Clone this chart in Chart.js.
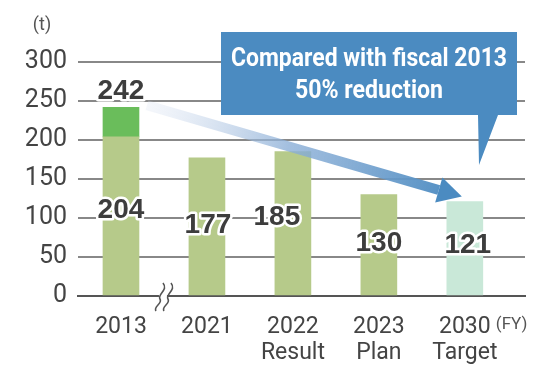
<!DOCTYPE html>
<html>
<head>
<meta charset="utf-8">
<script src="https://cdn.jsdelivr.net/npm/chart.js@4.4.0/dist/chart.umd.min.js"></script>
<style>
  html, body { margin: 0; padding: 0; background: #fff; }
</style>
</head>
<body>
<canvas id="chart" width="550" height="370"></canvas>
<script>
// data
var years = ['2013', '2021', '2022', '2023', '2030'];
var subLabels = ['', '', 'Result', 'Plan', 'Target'];
var baseValues = [204, 177, 185, 130, 121];
var extraValues = [38, null, null, null, null];
var totals = [242, 177, 185, 130, 121];
var yTicks = [0, 50, 100, 150, 200, 250, 300];

var lightGreen = '#b6ca8a';
var darkGreen = '#6abd5b';
var mint = '#c9e8d8';
var blue = '#4b8bc1';

// value labels, arrow, break mark, callout
var decorPlugin = {
  id: 'decor',
  afterDatasetsDraw: function (chart) {
    var ctx = chart.ctx;
    var x = chart.scales.x, y = chart.scales.y;
    var base = chart.getDatasetMeta(0).data;
    var extra = chart.getDatasetMeta(1).data;

    // break mark on the axis between 2013 and 2021
    var bx = (x.getPixelForValue(0) + x.getPixelForValue(1)) / 2 - 1;
    var by = y.getPixelForValue(0);
    ctx.save();
    ctx.fillStyle = '#fff';
    ctx.fillRect(bx - 4, by - 3, 8, 6);
    ctx.strokeStyle = '#555';
    ctx.lineWidth = 1.6;
    [-4, 4].forEach(function (dx) {
      ctx.beginPath();
      ctx.moveTo(bx + dx + 4, by - 13);
      ctx.bezierCurveTo(bx + dx + 10, by - 6, bx + dx - 2, by - 2, bx + dx + 1, by + 3);
      ctx.bezierCurveTo(bx + dx + 4, by + 8, bx + dx - 6, by + 10, bx + dx - 3, by + 15);
      ctx.stroke();
    });
    ctx.restore();

    // arrow from 2013 total to 2030 target
    var sx = x.getPixelForValue(0) + 26, sy = y.getPixelForValue(totals[0]) - 2;
    var ex = x.getPixelForValue(4) - 3, ey = y.getPixelForValue(totals[4]) - 5;
    var ang = Math.atan2(ey - sy, ex - sx);
    var headLen = 24, headW = 13;
    var hx = ex - Math.cos(ang) * headLen, hy = ey - Math.sin(ang) * headLen;
    var g = ctx.createLinearGradient(sx, sy, ex, ey);
    g.addColorStop(0, 'rgba(215,224,240,0.25)');
    g.addColorStop(0.45, 'rgba(140,175,215,0.8)');
    g.addColorStop(1, blue);
    ctx.save();
    ctx.strokeStyle = g;
    ctx.lineWidth = 10;
    ctx.beginPath();
    ctx.moveTo(sx, sy);
    ctx.lineTo(hx, hy);
    ctx.stroke();
    ctx.fillStyle = blue;
    ctx.beginPath();
    ctx.moveTo(ex, ey);
    ctx.lineTo(hx + Math.sin(ang) * headW, hy - Math.cos(ang) * headW);
    ctx.lineTo(hx - Math.sin(ang) * headW, hy + Math.cos(ang) * headW);
    ctx.closePath();
    ctx.fill();
    ctx.restore();

    // value labels
    ctx.save();
    ctx.font = 'bold 28px "Liberation Sans", Arial, sans-serif';
    ctx.textAlign = 'center';
    ctx.textBaseline = 'middle';
    ctx.lineJoin = 'round';
    ctx.lineWidth = 5;
    ctx.strokeStyle = '#fff';
    ctx.fillStyle = '#3d3d3d';
    var offs = [[0, -6], [1, -1], [-16, -6], [0, -2], [3, -3]];
    function label(txt, px, py) {
      ctx.strokeText(txt, px, py);
      ctx.fillText(txt, px, py);
    }
    base.forEach(function (bar, i) {
      var c = bar.getCenterPoint();
      label(String(baseValues[i]), c.x + offs[i][0], c.y + offs[i][1]);
    });
    label(String(totals[0]), extra[0].x, extra[0].y - 16);
    ctx.restore();
  },
  afterDraw: function (chart) {
    var ctx = chart.ctx;
    var x = chart.scales.x;
    ctx.save();
    // units
    ctx.fillStyle = '#555';
    ctx.font = '18px Roboto, sans-serif';
    ctx.textAlign = 'center';
    ctx.textBaseline = 'middle';
    ctx.fillText('(t)', 42, 25);
    ctx.font = '17px Roboto, sans-serif';
    ctx.textAlign = 'left';
    ctx.fillText('(FY)', x.getPixelForValue(4) + 31, 325);

    // callout box
    ctx.fillStyle = blue;
    ctx.beginPath();
    ctx.moveTo(221, 32);
    ctx.lineTo(517, 32);
    ctx.lineTo(517, 115);
    ctx.lineTo(498, 115);
    ctx.lineTo(479, 165);
    ctx.lineTo(478, 115);
    ctx.lineTo(221, 115);
    ctx.closePath();
    ctx.fill();
    ctx.fillStyle = '#fff';
    ctx.font = 'bold 26px Roboto, sans-serif';
    ctx.textAlign = 'center';
    ctx.fillText('Compared with fiscal 2013', 369, 59, 276);
    ctx.fillText('50% reduction', 369, 91, 148);
    ctx.restore();
  }
};

new Chart(document.getElementById('chart'), {
  type: 'bar',
  data: {
    datasets: [{
      label: 'Result',
      data: baseValues.map(function (v, i) { return { x: i, y: v }; }),
      backgroundColor: [lightGreen, lightGreen, lightGreen, lightGreen, mint],
      barThickness: 36
    }, {
      label: '2013 extra',
      data: extraValues.map(function (v, i) { return { x: i, y: v }; }),
      backgroundColor: darkGreen,
      barThickness: 36
    }]
  },
  options: {
    responsive: false,
    animation: false,
    devicePixelRatio: 1,
    layout: { padding: { top: 62, right: 25, bottom: 0, left: 0 } },
    plugins: { legend: { display: false }, tooltip: { enabled: false } },
    scales: {
      x: {
        type: 'linear',
        stacked: true,
        offset: false,
        min: -0.5,
        max: 4.7,
        grid: { display: false, offset: false },
        border: { color: '#555', width: 2 },
        afterBuildTicks: function (s) {
          s.ticks = years.map(function (_, i) { return { value: i }; });
        },
        afterFit: function (s) { s.height = 74; },
        ticks: {
          autoSkip: false,
          maxRotation: 0,
          padding: 10,
          color: '#444',
          font: { family: 'Roboto', size: 23, lineHeight: 1.15 },
          callback: function (v) {
            return subLabels[v] ? [years[v], subLabels[v]] : years[v];
          }
        }
      },
      y: {
        stacked: true,
        min: 0,
        max: 300,
        afterBuildTicks: function (s) {
          s.ticks = yTicks.map(function (v) { return { value: v }; });
        },
        afterFit: function (s) { s.width = 78; },
        grid: { color: '#888', lineWidth: 2, drawTicks: false },
        border: { display: false },
        ticks: {
          padding: 11,
          color: '#444',
          font: { family: 'Roboto', size: 25 }
        }
      }
    }
  },
  plugins: [decorPlugin]
});
</script>
</body>
</html>
